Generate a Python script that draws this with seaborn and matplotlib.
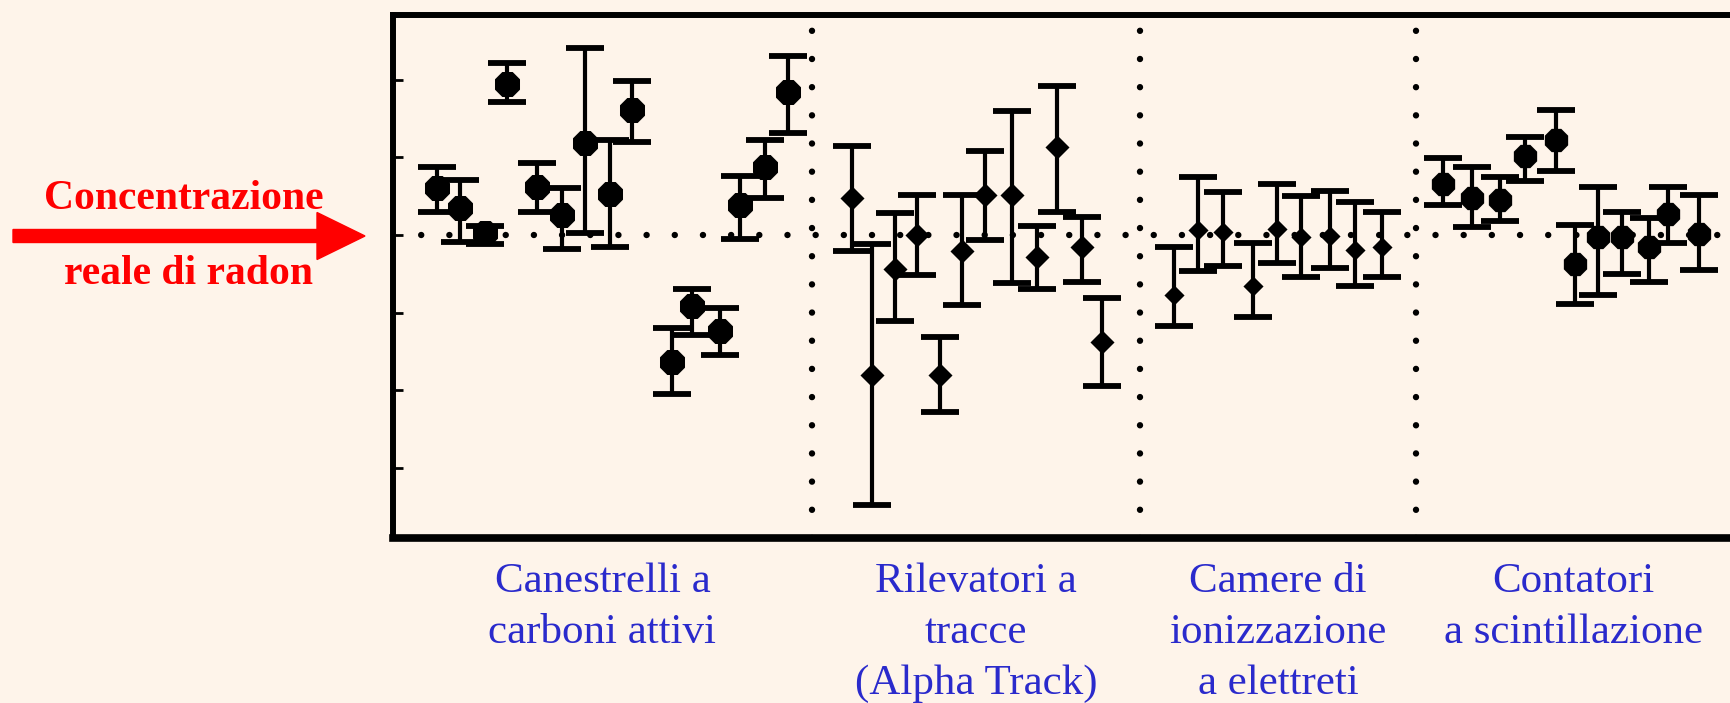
import numpy as np
import pandas as pd
import matplotlib
matplotlib.use("Agg")
import matplotlib.pyplot as plt
import seaborn as sns
from matplotlib.patches import FancyArrow
from matplotlib.transforms import IdentityTransform

# --- data (y = deviation from the true radon level, in tick units) ---
group_names = ["Canestrelli a\ncarboni attivi",
               "Rilevatori a\ntracce\n(Alpha Track)",
               "Camere di\nionizzazione\na elettreti",
               "Contatori\na scintillazione"]

g1_x = [4.4, 6.7, 9.2, 11.4, 14.4, 16.9, 19.2, 21.7, 23.9, 27.9, 29.9, 32.7, 34.7, 37.2, 39.5]
g1_y = [0.60, 0.35, 0.02, 1.94, 0.62, 0.25, 1.18, 0.53, 1.61, -1.64, -0.92, -1.24, 0.39, 0.88, 1.84]
g1_hi = [0.88, 0.71, 0.12, 2.21, 0.92, 0.60, 2.40, 1.22, 1.98, -1.20, -0.69, -0.94, 0.76, 1.22, 2.30]
g1_lo = [0.30, -0.09, -0.12, 1.71, 0.30, -0.18, 0.02, -0.16, 1.20, -2.05, -1.29, -1.54, -0.05, 0.48, 1.31]

g2_x = [45.9, 47.9, 50.2, 52.4, 54.7, 56.9, 59.2, 61.9, 64.4, 66.4, 68.9, 70.9]
g2_y = [0.48, -1.80, -0.44, 0.00, -1.80, -0.21, 0.51, 0.51, -0.28, 1.13, -0.16, -1.38]
g2_hi = [1.15, -0.12, 0.28, 0.51, -1.31, 0.51, 1.08, 1.59, 0.12, 1.91, 0.23, -0.81]
g2_lo = [-0.21, -3.48, -1.11, -0.51, -2.28, -0.90, -0.07, -0.62, -0.69, 0.30, -0.60, -1.94]

g3_x = [78.1, 80.5, 83.0, 86.0, 88.4, 90.8, 93.7, 96.2, 98.9]
g3_y = [-0.77, 0.06, 0.04, -0.66, 0.08, -0.03, -0.01, -0.19, -0.15]
g3_hi = [-0.15, 0.75, 0.55, -0.10, 0.66, 0.50, 0.57, 0.43, 0.29]
g3_lo = [-1.17, -0.47, -0.40, -1.05, -0.36, -0.54, -0.43, -0.66, -0.54]

g4_x = [105.0, 107.9, 110.7, 113.2, 116.3, 118.2, 120.5, 122.9, 125.6, 127.5, 130.6]
g4_y = [0.66, 0.48, 0.45, 1.01, 1.22, -0.38, -0.03, -0.03, -0.15, 0.27, 0.01]
g4_hi = [0.99, 0.87, 0.75, 1.26, 1.61, 0.13, 0.62, 0.29, 0.22, 0.62, 0.52]
g4_lo = [0.38, 0.10, 0.18, 0.69, 0.82, -0.89, -0.77, -0.50, -0.61, -0.10, -0.45]

group_edges = [0.0, 41.9, 74.7, 102.3, 133.7]
reference_level = 0.0
y_ticks = [-3, -2, -1, 0, 1, 2]

BG = "#FEF4EA"
BLUE = "#2A2ACC"

sns.set_theme(style="white")
plt.rcParams["font.family"] = ["Liberation Serif", "DejaVu Serif"]

frames = []
for name, xs, ys, his, los in zip(group_names,
                                 [g1_x, g2_x, g3_x, g4_x],
                                 [g1_y, g2_y, g3_y, g4_y],
                                 [g1_hi, g2_hi, g3_hi, g4_hi],
                                 [g1_lo, g2_lo, g3_lo, g4_lo]):
    frames.append(pd.DataFrame({"group": name, "x": xs, "y": ys, "hi": his, "lo": los}))
df = pd.concat(frames, ignore_index=True)

fig = plt.figure(figsize=(17.3, 7.03), dpi=100, facecolor=BG)
ax = fig.add_axes([393 / 1730, 165 / 703, 1 - 393 / 1730, 523 / 703])
ax.set_facecolor(BG)

# dotted reference + group separators
dots = dict(color="black", lw=4.6, linestyle=(0, (0.01, 4.4)), dash_capstyle="round", zorder=1)
ax.axhline(reference_level, **dots)
for xe in group_edges[1:-1]:
    ax.axvline(xe, **dots)

# error bars + markers
marker_map = {group_names[0]: "8", group_names[1]: "D", group_names[2]: "D", group_names[3]: "8"}
size_map = {group_names[0]: 380, group_names[1]: 150, group_names[2]: 105, group_names[3]: 330}
for name, sub in df.groupby("group", sort=False):
    yerr = np.vstack([sub["y"] - sub["lo"], sub["hi"] - sub["y"]])
    ax.errorbar(sub["x"], sub["y"], yerr=yerr, fmt="none", ecolor="black",
                elinewidth=3.0, capsize=14, capthick=4.2, zorder=3)
    sns.scatterplot(data=sub, x="x", y="y", marker=marker_map[name], s=size_map[name],
                    color="black", edgecolor="black", linewidth=0, ax=ax, zorder=4, legend=False)

ax.set_xlim(group_edges[0], group_edges[-1])
ax.set_ylim(-3.90, 2.83)
ax.set_xlabel("")
ax.set_ylabel("")

centers = [(a + b) / 2 for a, b in zip(group_edges[:-1], group_edges[1:])]
ax.set_xticks(centers)
ax.set_xticklabels(group_names, color=BLUE, fontsize=31)
for lbl in ax.get_xticklabels():
    lbl.set_linespacing(1.41)
ax.tick_params(axis="x", length=0, pad=18)
ax.set_yticks(y_ticks)
ax.set_yticklabels([])
ax.tick_params(axis="y", direction="in", length=7, width=2, left=True, color="black")

for side in ["left", "top"]:
    ax.spines[side].set_visible(True)
    ax.spines[side].set_color("black")
    ax.spines[side].set_linewidth(4.3)
ax.spines["bottom"].set_color("black")
ax.spines["bottom"].set_linewidth(5.5)
ax.spines["right"].set_visible(False)

# red arrow and caption on the left, pointing at the true level
arrow = FancyArrow(13, 703 - 236, 352, 0, width=13, head_width=47, head_length=48,
                   length_includes_head=True, color="#FF0000", transform=IdentityTransform())
fig.add_artist(arrow)
fig.text(184 / 1730, 1 - 199 / 703, "Concentrazione", color="#FF0000", fontsize=30,
         fontweight="bold", ha="center", va="center")
fig.text(188 / 1730, 1 - 274 / 703, "reale di radon", color="#FF0000", fontsize=30,
         fontweight="bold", ha="center", va="center")

fig.savefig("out.png", dpi=100, facecolor=BG)
